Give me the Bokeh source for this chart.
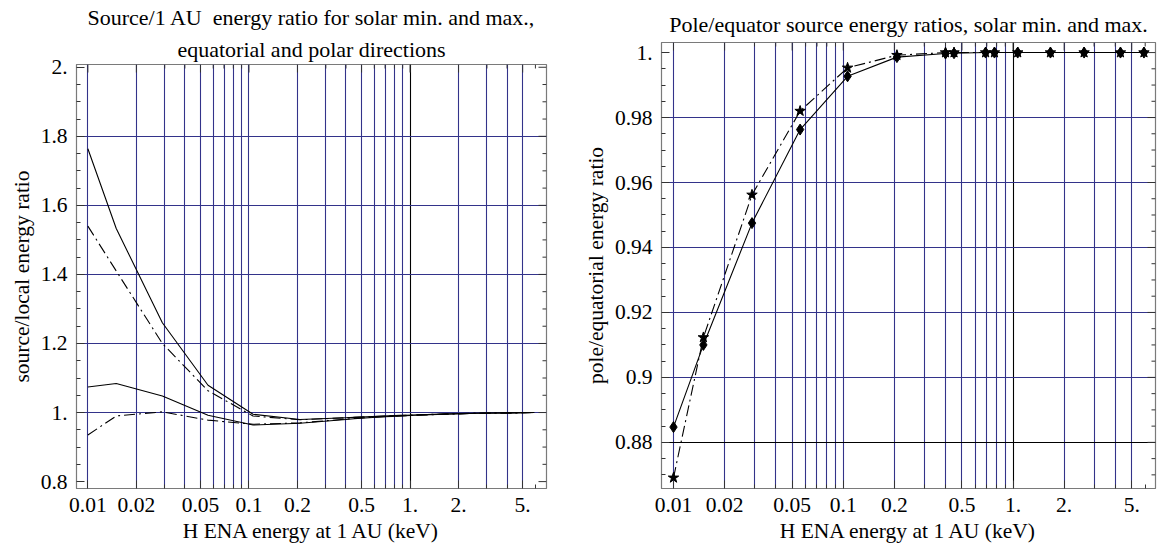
import math
from bokeh.plotting import figure
from bokeh.models import Range1d, FixedTicker, Grid, Title
from bokeh.layouts import row
from bokeh.embed import file_html
from bokeh.resources import INLINE

# ---------------- data ----------------
energy = [0.01, 0.015, 0.029, 0.0557, 0.106, 0.207, 0.40, 0.449, 0.689, 0.777, 1.065, 1.66, 2.62, 4.29, 5.9]

# left panel: source / 1 AU energy ratio
src_upper_solid = [1.764, 1.533, 1.260, 1.079, 0.995, 0.980, 0.985, 0.986, 0.990, 0.991, 0.993, 0.996, 0.998, 0.999, 1.000]
src_upper_dashdot = [1.540, 1.410, 1.200, 1.063, 0.990, 0.979, 0.985, 0.986, 0.990, 0.991, 0.993, 0.996, 0.998, 0.999, 1.000]
src_lower_solid = [1.074, 1.084, 1.048, 0.992, 0.964, 0.969, 0.980, 0.982, 0.988, 0.989, 0.992, 0.995, 0.998, 0.999, 1.000]
src_lower_dashdot = [0.935, 0.990, 1.002, 0.978, 0.966, 0.970, 0.981, 0.983, 0.988, 0.989, 0.992, 0.995, 0.998, 0.999, 1.000]

# right panel: pole / equator ratios
pole_eq_solid = [0.8847, 0.9100, 0.9475, 0.9763, 0.9927, 0.9986, 0.9997, 0.9998, 1.0, 1.0, 1.0, 1.0, 1.0, 1.0, 1.0]
pole_eq_dashdot = [0.8691, 0.9123, 0.9562, 0.9820, 0.9953, 0.9992, 1.0, 1.0, 1.0, 1.0, 1.0, 1.0, 1.0, 1.0, 1.0]

# ticks / labels
x_major = [0.01, 0.02, 0.05, 0.1, 0.2, 0.5, 1.0, 2.0, 5.0]
x_major_labels = ["0.01", "0.02", "0.05", "0.1", "0.2", "0.5", "1.", "2.", "5."]
x_grid_blue = [0.01, 0.02, 0.03, 0.04, 0.05, 0.06, 0.07, 0.08, 0.09, 0.1,
               0.2, 0.3, 0.4, 0.5, 0.6, 0.7, 0.8, 0.9, 2.0, 3.0, 4.0, 5.0]
x_grid_black = [1.0]
x_minor = [0.03, 0.04, 0.06, 0.07, 0.08, 0.09, 0.3, 0.4, 0.6, 0.7, 0.8, 0.9, 3.0, 4.0, 6.0]

left_y_major = [0.8, 1.0, 1.2, 1.4, 1.6, 1.8, 2.0]
left_y_labels = ["0.8", "1.", "1.2", "1.4", "1.6", "1.8", "2."]
left_y_grid = [1.0, 1.2, 1.4, 1.6, 1.8]

right_y_major = [0.88, 0.90, 0.92, 0.94, 0.96, 0.98, 1.0]
right_y_labels = ["0.88", "0.9", "0.92", "0.94", "0.96", "0.98", "1."]
right_y_grid_blue = [0.90, 0.92, 0.94, 0.96, 0.98]
right_y_grid_black = [0.88]

FONT = "Liberation Serif"
NAVY = "#33338a"
FRAME = "#7a7a7a"
TICK = "#333333"
FS = "21.5px"
TFS = "22px"
DASHDOT = "11 4 2 4"


def make_fig(width, borders, xr, yr, ymaj, ylab, yminor, ylabel_text, titles, title_offset, standoffs):
    bl, br, bt, bb = borders
    p = figure(width=width, height=554, x_axis_type="log",
               x_range=Range1d(*xr), y_range=Range1d(*yr),
               output_backend="svg", toolbar_location=None, title=None,
               min_border_left=bl, min_border_right=br,
               min_border_top=bt, min_border_bottom=bb)
    p.frame_align = False
    p.background_fill_color = "white"
    p.border_fill_color = "white"
    p.outline_line_color = FRAME
    p.outline_line_width = 1.2
    p.xgrid.grid_line_color = None
    p.ygrid.grid_line_color = None

    xa = p.xaxis[0]
    xa.ticker = FixedTicker(ticks=x_major, minor_ticks=x_minor)
    xa.major_label_overrides = {v: s for v, s in zip(x_major, x_major_labels)}
    ya = p.yaxis[0]
    ya.ticker = FixedTicker(ticks=ymaj, minor_ticks=yminor)
    ya.major_label_overrides = {v: s for v, s in zip(ymaj, ylab)}

    for ax in (xa, ya):
        ax.axis_line_color = FRAME
        ax.major_tick_in = 8
        ax.major_tick_out = 0
        ax.minor_tick_in = 4
        ax.minor_tick_out = 0
        ax.major_tick_line_color = TICK
        ax.minor_tick_line_color = TICK
        ax.major_label_text_font = FONT
        ax.major_label_text_font_size = FS
        ax.major_label_text_color = "black"
        ax.axis_label_text_font = FONT
        ax.axis_label_text_font_size = FS
        ax.axis_label_text_font_style = "normal"
        ax.axis_label_text_color = "black"
        ax.major_label_standoff = 9

    xa.axis_label = "H ENA energy at 1 AU (keV)"
    xa.axis_label_standoff = 4
    ya.axis_label = ylabel_text
    ya.axis_label_standoff = 4

    # inward frame ticks on the right and top edges
    p.ray(x=[xr[1]] * len(ymaj), y=ymaj, length=8, length_units="screen",
          angle=math.pi, line_color=TICK, line_width=1)
    p.ray(x=[xr[1]] * len(yminor), y=yminor, length=4, length_units="screen",
          angle=math.pi, line_color=TICK, line_width=1)
    p.ray(x=x_major, y=[yr[1]] * len(x_major), length=8, length_units="screen",
          angle=-math.pi / 2, line_color=TICK, line_width=1)
    p.ray(x=x_minor, y=[yr[1]] * len(x_minor), length=4, length_units="screen",
          angle=-math.pi / 2, line_color=TICK, line_width=1)

    for t, so in zip(reversed(titles), standoffs):
        p.add_layout(Title(text=t, align="center", offset=title_offset,
                           text_font=FONT, text_font_size=TFS,
                           text_font_style="normal", text_color="black",
                           standoff=so), "above")
    return p


def add_grids(p, xblue, xblack, yblue, yblack):
    if xblue:
        p.add_layout(Grid(dimension=0, ticker=FixedTicker(ticks=xblue),
                          grid_line_color=NAVY, grid_line_width=1.1, level="underlay"))
    if xblack:
        p.add_layout(Grid(dimension=0, ticker=FixedTicker(ticks=xblack),
                          grid_line_color="black", grid_line_width=1.1, level="underlay"))
    if yblue:
        p.add_layout(Grid(dimension=1, ticker=FixedTicker(ticks=yblue),
                          grid_line_color=NAVY, grid_line_width=1.1, level="underlay"))
    if yblack:
        p.add_layout(Grid(dimension=1, ticker=FixedTicker(ticks=yblack),
                          grid_line_color="black", grid_line_width=1.1, level="underlay"))


left_minor = [round(0.8 + 0.05 * i, 3) for i in range(25)]
left_minor = [v for v in left_minor if v not in left_y_major]
right_minor = [round(0.865 + 0.005 * i, 3) for i in range(28)]
right_minor = [v for v in right_minor if v not in right_y_major]

p1 = make_fig(580, (76, 34, 63, 66), (0.0085, 7.03), (0.78, 2.008),
              left_y_major, left_y_labels, left_minor,
              "source/local energy ratio",
              ["Source/1 AU\u00a0 energy ratio for solar min. and max.,",
               "equatorial and polar directions"], -10, [6, 4])
add_grids(p1, x_grid_blue, x_grid_black, left_y_grid, [])
p1.line(energy, src_upper_solid, line_color="black", line_width=1.1)
p1.line(energy, src_lower_solid, line_color="black", line_width=1.1)
p1.line(energy, src_upper_dashdot, line_color="black", line_width=1.1, line_dash=DASHDOT)
p1.line(energy, src_lower_dashdot, line_color="black", line_width=1.1, line_dash=DASHDOT)

p2 = make_fig(581, (79, 6, 42, 66), (0.0085, 6.9), (0.8658, 1.0031),
              right_y_major, right_y_labels, right_minor,
              "pole/equatorial energy ratio",
              ["Pole/equator source energy ratios, solar min. and max."], -4, [12])
add_grids(p2, x_grid_blue, x_grid_black, right_y_grid_blue, right_y_grid_black)
p2.line(energy, pole_eq_dashdot, line_color="black", line_width=1.1, line_dash=DASHDOT)
p2.scatter(energy, pole_eq_dashdot, marker="star", size=11, fill_color="black", line_color="black")
p2.line(energy, pole_eq_solid, line_color="black", line_width=1.1)
p2.scatter(energy, pole_eq_solid, marker="diamond", size=11, fill_color="black", line_color="black")

layout = row(p1, p2)
open("out.html", "w").write(file_html(layout, INLINE))
